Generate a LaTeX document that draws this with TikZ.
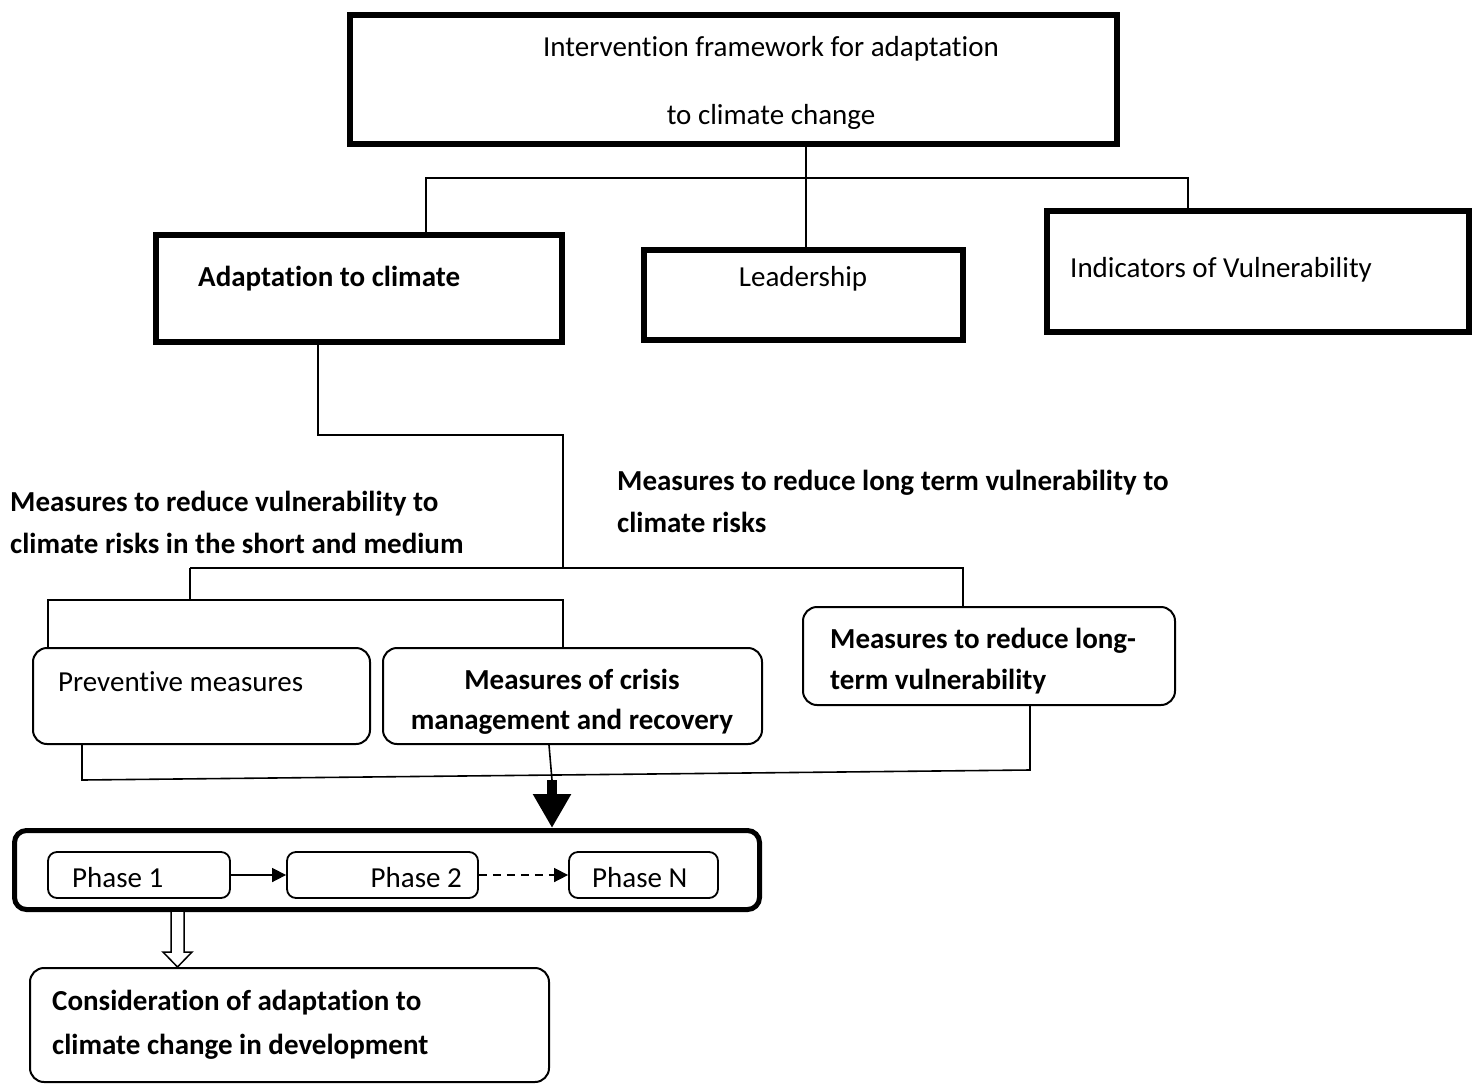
\documentclass[tikz,border=0pt]{standalone}
\usepackage{fontspec}
\setmainfont{Carlito}[Ligatures=NoCommon]
\usetikzlibrary{arrows.meta,calc}

\begin{document}
\begin{tikzpicture}[x=1pt,y=-1pt,
  every node/.style={inner sep=0pt, font=\fontsize{29}{35}\selectfont},
  thickbox/.style={draw, line width=6pt},
  roundbox/.style={draw, line width=2pt, rounded corners=14pt},
  phasebox/.style={draw, line width=1.8pt, rounded corners=9pt},
  conn/.style={line width=1.6pt},
  heading/.style={font=\fontsize{29}{42}\selectfont\bfseries, align=left, anchor=west},
  tip/.style={-{Triangle[width=14pt,length=14pt]}}]
\useasboundingbox (0,0) rectangle (1474,1084);
% top level
\node[thickbox, minimum width=767pt, minimum height=129pt] (top) at (733.5,79.5) {};
\node[align=center] (top-t) at (771,83) {Intervention framework for adaptation\\[33pt]to climate change};
\node[thickbox, minimum width=406pt, minimum height=107pt] (adapt) at (359,288.5) {};
\node[font=\fontsize{29}{35}\selectfont\bfseries, anchor=west] (adapt-t) at (198,279) {Adaptation to climate};
\node[thickbox, minimum width=319pt, minimum height=90pt] (lead) at (803.5,295) {};
\node (lead-t) at (803,279) {Leadership};
\node[thickbox, minimum width=422pt, minimum height=121pt] (indic) at (1258,271.5) {};
\node[anchor=west] (indic-t) at (1070,270) {Indicators of Vulnerability};
\coordinate (b1) at (426,178);
\coordinate (b2) at (1188,178);
\coordinate (b3) at (806,178);
\draw[conn] (b3 |- top.south) -- (b3 |- lead.north);
\draw[conn] (b1 |- adapt.north) -- (b1) -- (b2) -- (b2 |- indic.north);
% measures
\node[heading] (short-t) at (10,522) {Measures to reduce vulnerability to\\climate risks in the short and medium};
\node[heading] (long-t) at (617,501.5) {Measures to reduce long term vulnerability to\\climate risks};
\node[roundbox, minimum width=337pt, minimum height=96pt] (prev) at (201.5,696) {};
\node[anchor=west] (prev-t) at (58,682) {Preventive measures};
\node[roundbox, minimum width=379pt, minimum height=96pt] (crisis) at (572.5,696) {};
\node[font=\fontsize{29}{40}\selectfont\bfseries, align=center] (crisis-t) at (572,702) {Measures of crisis\\management and recovery};
\node[roundbox, minimum width=372pt, minimum height=98pt] (long) at (989,656) {};
\node[font=\fontsize{29}{41}\selectfont\bfseries, align=left, anchor=west] (long-b) at (830,661.5) {Measures to reduce long-\\term vulnerability};
\coordinate (c1) at (318,435);
\coordinate (c2) at (563,568);
\coordinate (c3) at (190,568);
\coordinate (c4) at (963,568);
\coordinate (d1) at (48,600);
\coordinate (d2) at (563,600);
\draw[conn] (c1 |- adapt.south) -- (c1) -| (c2);
\draw[conn] (c3) -- (c4) -- (c4 |- long.north);
\draw[conn] (c3) -- (c3 |- d1);
\draw[conn] (d1 |- prev.north) -- (d1) -- (d2) -- (d2 |- crisis.north);
% phases
\node[draw, line width=5pt, rounded corners=12pt, minimum width=745pt, minimum height=79pt] (frame) at (387,870) {};
\node[phasebox, minimum width=182pt, minimum height=46pt] (ph1) at (139,875) {};
\node[anchor=west] (ph1-t) at (72,878) {Phase 1};
\node[phasebox, minimum width=191pt, minimum height=46pt] (ph2) at (382.5,875) {};
\node[anchor=east] (ph2-t) at (462,878) {Phase 2};
\node[phasebox, minimum width=149pt, minimum height=46pt] (phn) at (643.5,875) {};
\node[anchor=west] (phn-t) at (592,878) {Phase N};
\draw[conn, tip] (ph1) -- (ph2);
\draw[conn, tip, dash pattern=on 8pt off 6pt] (ph2) -- (phn);
\coordinate (e1) at (82,780);
\coordinate (e2) at (1030,770);
\coordinate (e3) at (552,780);
\coordinate (e4) at (549,744);
\draw[conn] (e1 |- prev.south) -- (e1) -- (e2) -- (e2 |- long.south);
\draw[conn] (e4 |- crisis.south) -- (e3);
\draw[line width=10pt, -{Triangle[width=36pt,length=34pt]}] (e3) -- (e3 |- frame.north);
% development
\node[roundbox, minimum width=519pt, minimum height=114pt] (cons) at (289.5,1025) {};
\node[font=\fontsize{29}{44}\selectfont\bfseries, align=left, anchor=west] (cons-t) at (52,1025) {Consideration of adaptation to\\climate change in development};
\coordinate (f1) at (177.5,0);
\coordinate (fa) at (f1 |- frame.south);
\coordinate (fb) at (f1 |- cons.north);
\draw[line width=1.5pt, fill=white] ($(fa)+(-6.5,0)$) -- ($(fb)+(-6.5,-15)$) -- ($(fb)+(-14.5,-15)$) -- (fb)
  -- ($(fb)+(14.5,-15)$) -- ($(fb)+(6.5,-15)$) -- ($(fa)+(6.5,0)$);
\end{tikzpicture}
\end{document}
